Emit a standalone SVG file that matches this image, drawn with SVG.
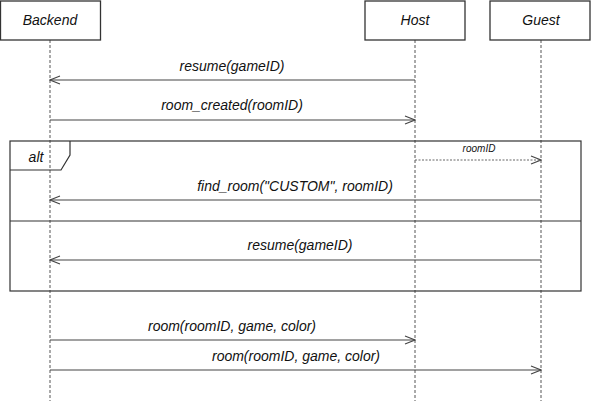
<svg xmlns="http://www.w3.org/2000/svg" width="591" height="401" viewBox="0 0 591 401">
<style>
.actor rect{fill:#fff;stroke:#333;stroke-width:1.3}
.lbl{font-family:"Liberation Sans",sans-serif;font-style:italic;font-size:14px;fill:#111;text-anchor:middle}
.life{stroke:#555;stroke-width:1;stroke-dasharray:3 2}
.msg{stroke:#444;stroke-width:1.2;fill:none}
.dot{stroke:#666;stroke-width:1;stroke-dasharray:2 1.5;fill:none}
.frame{fill:none;stroke:#333;stroke-width:1.2}
</style>
<defs>
<marker id="ah" markerWidth="12" markerHeight="10" refX="11" refY="5" orient="auto" markerUnits="userSpaceOnUse">
<path d="M1,1 L11,5 L1,9" fill="none" stroke="#444" stroke-width="1.1"/>
</marker>
</defs>
<g id="lifelines">
<line class="life" x1="50" y1="40" x2="50" y2="401"/>
<line class="life" x1="415" y1="40" x2="415" y2="401"/>
<line class="life" x1="541" y1="40" x2="541" y2="401"/>
</g>
<g id="backend" class="actor"><rect x="0.5" y="1" width="100" height="39"/><text class="lbl" x="50" y="25">Backend</text></g>
<g id="host" class="actor"><rect x="365" y="1" width="100" height="39"/><text class="lbl" x="415" y="25">Host</text></g>
<g id="guest" class="actor"><rect x="490" y="1" width="100" height="39"/><text class="lbl" x="541" y="25">Guest</text></g>
<g id="alt">
<rect class="frame" x="10" y="141" width="571" height="150"/>
<path class="frame" d="M10,170 L61,170 L70,155 L70,141"/>
<line class="frame" x1="10" y1="221" x2="581" y2="221"/>
<text class="lbl" x="36" y="162">alt</text>
</g>
<g id="connectors">
<line class="msg" x1="415" y1="80" x2="50" y2="80" marker-end="url(#ah)"/>
<text class="lbl" x="232" y="71">resume(gameID)</text>
<line class="msg" x1="50" y1="120" x2="415" y2="120" marker-end="url(#ah)"/>
<text class="lbl" x="232" y="110">room_created(roomID)</text>
<line class="dot" x1="415" y1="160" x2="541" y2="160" marker-end="url(#ah)"/>
<text class="lbl" x="479" y="152" style="font-size:10px">roomID</text>
<line class="msg" x1="541" y1="200" x2="50" y2="200" marker-end="url(#ah)"/>
<text class="lbl" x="295" y="191">find_room("CUSTOM", roomID)</text>
<line class="msg" x1="541" y1="260" x2="50" y2="260" marker-end="url(#ah)"/>
<text class="lbl" x="300" y="250">resume(gameID)</text>
<line class="msg" x1="50" y1="340" x2="415" y2="340" marker-end="url(#ah)"/>
<text class="lbl" x="232" y="331">room(roomID, game, color)</text>
<line class="msg" x1="50" y1="370" x2="541" y2="370" marker-end="url(#ah)"/>
<text class="lbl" x="296" y="361">room(roomID, game, color)</text>
</g>
</svg>
